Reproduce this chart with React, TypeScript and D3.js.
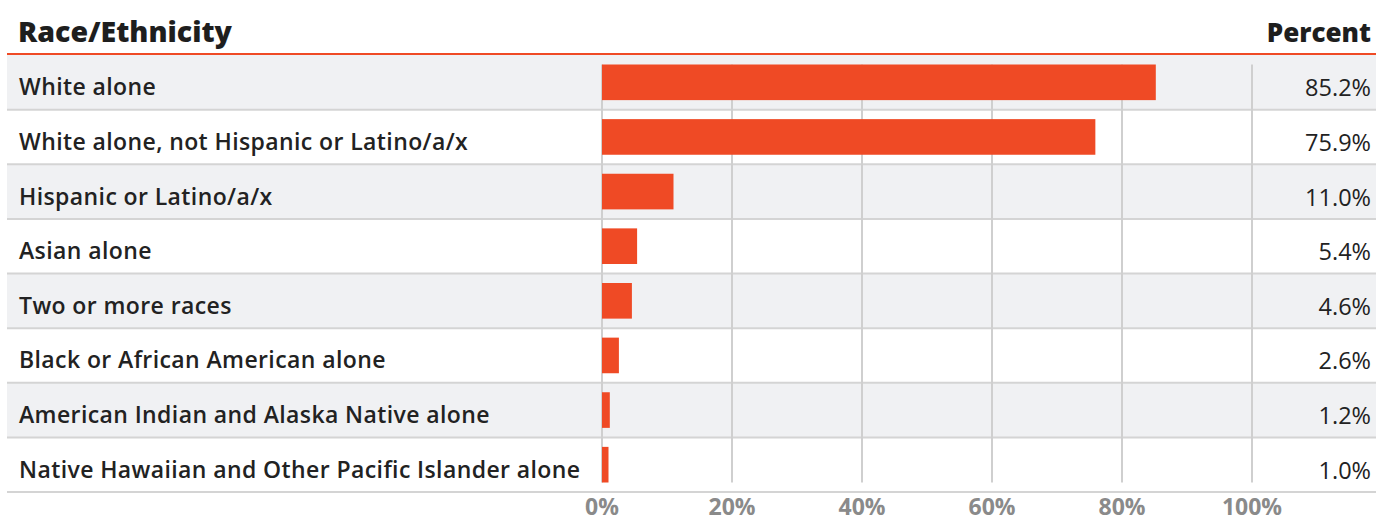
import React from "react";
import * as d3 from "d3";

const categories = [
  "White alone",
  "White alone, not Hispanic or Latino/a/x",
  "Hispanic or Latino/a/x",
  "Asian alone",
  "Two or more races",
  "Black or African American alone",
  "American Indian and Alaska Native alone",
  "Native Hawaiian and Other Pacific Islander alone",
];
const values = [85.2, 75.9, 11.0, 5.4, 4.6, 2.6, 1.2, 1.0];
const ticks = [0, 20, 40, 60, 80, 100];

const W = 1376;
const H = 520;
const FONT = "'Open Sans', 'Noto Sans', sans-serif";

export default function App() {
  const x = d3.scaleLinear().domain([0, 100]).range([602, 1252]);
  const rowTop = 55;
  const rowBottom = 492;
  const y = d3.scaleBand<number>().domain(d3.range(categories.length)).range([rowTop, rowBottom]);
  const rh = y.bandwidth();
  const barPad = 9.5;
  const gridTop = (y(0) as number) + barPad;
  const gridBottom = (y(categories.length - 1) as number) + rh - barPad;

  return (
    <svg width={W} height={H} style={{ position: "absolute", left: 0, top: 0, display: "block" }} fontFamily={FONT}>
      <rect x={0} y={0} width={W} height={H} fill="#fff" />
      {categories.map((c, i) => (
        <rect key={"bg" + i} x={7} y={y(i)} width={W - 7} height={rh} fill={i % 2 === 0 ? "#f0f1f3" : "#ffffff"} />
      ))}
      {categories.map((c, i) => (
        <line key={"sep" + i} x1={7} x2={W} y1={(y(i) as number) + rh} y2={(y(i) as number) + rh} stroke="#d4d4d4" strokeWidth={2} />
      ))}
      {ticks.map((t) => (
        <line key={"g" + t} x1={x(t)} x2={x(t)} y1={gridTop} y2={gridBottom} stroke="#cfcfcf" strokeWidth={2} />
      ))}
      {values.map((v, i) => (
        <rect key={"b" + i} x={x(0)} y={(y(i) as number) + barPad} width={x(v) - x(0)} height={rh - 2 * barPad} fill="#ef4a25" />
      ))}
      {categories.map((c, i) => (
        <text key={"l" + i} x={19} y={(y(i) as number) + rh / 2 + 13} fontSize={23} letterSpacing={0.4} fontWeight={600} fill="#222">
          {c}
        </text>
      ))}
      {values.map((v, i) => (
        <text key={"v" + i} x={1371} y={(y(i) as number) + rh / 2 + 14} fontSize={23.5} textAnchor="end" fill="#222">
          {v.toFixed(1) + "%"}
        </text>
      ))}
      {ticks.map((t) => (
        <text key={"t" + t} x={x(t)} y={514.5} fontSize={23} fontWeight={700} textAnchor="middle" fill="#8a8a8a">
          {t + "%"}
        </text>
      ))}
      <line x1={7} x2={W} y1={54} y2={54} stroke="#ef4a25" strokeWidth={2} />
      <text x={18} y={41.5} fontSize={28.5} fontWeight={800} fill="#1e1e1e">Race/Ethnicity</text>
      <text x={1371} y={41.5} fontSize={26} fontWeight={800} fill="#1e1e1e" textAnchor="end">Percent</text>
    </svg>
  );
}
